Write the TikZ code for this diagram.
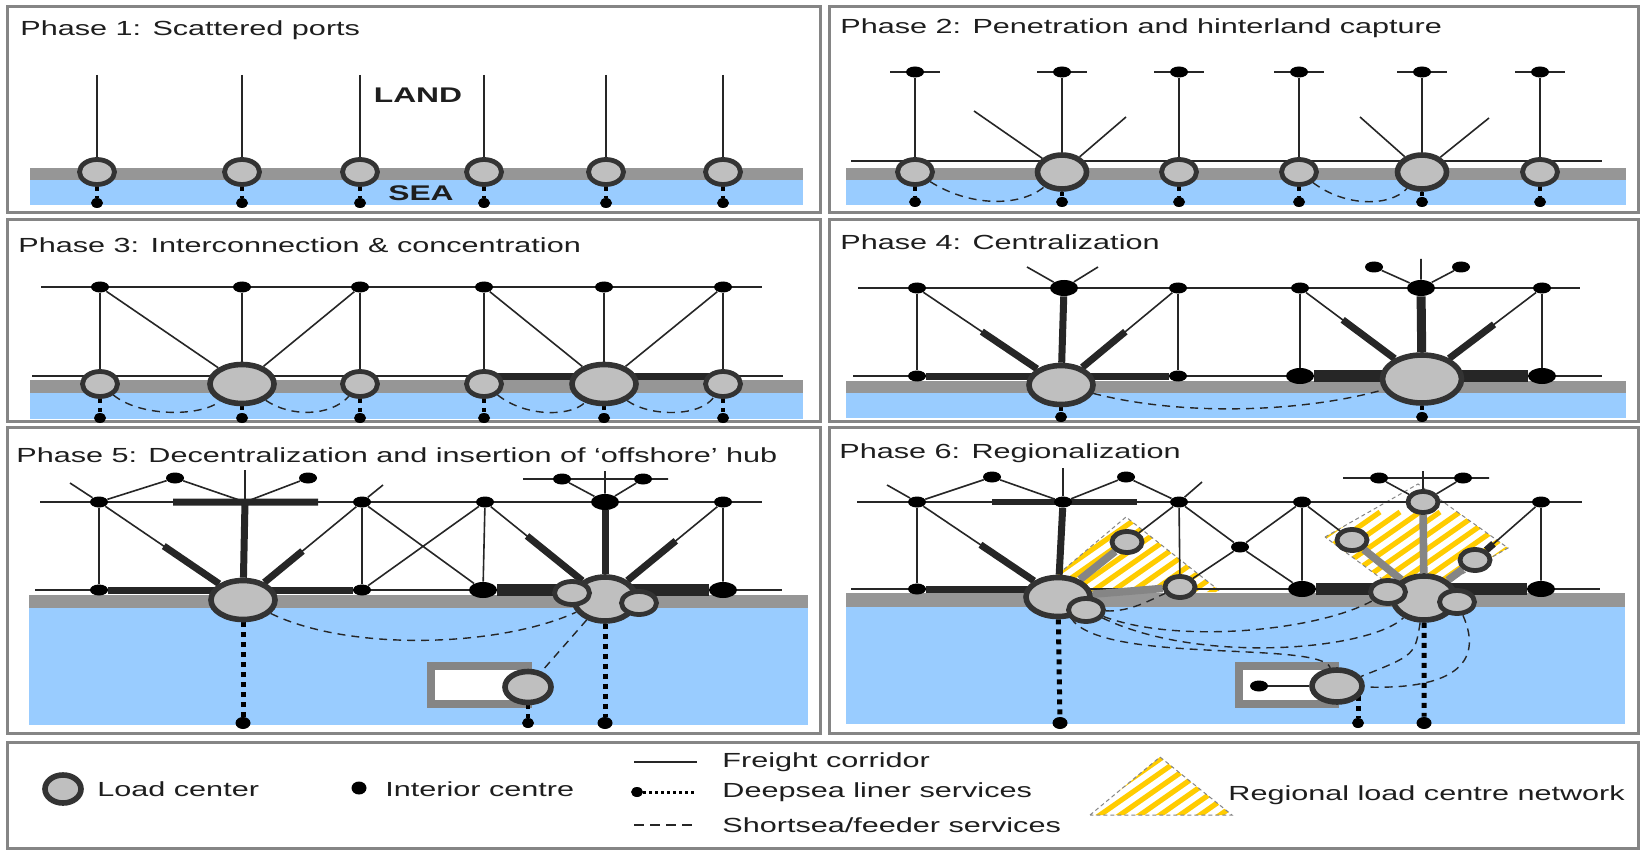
\documentclass[tikz,border=0pt]{standalone}
\usepackage{fontspec}
\setmainfont{Liberation Sans}[FakeStretch=1.5]
\usetikzlibrary{shapes.geometric,calc}
\definecolor{framegray}{HTML}{858585}
\definecolor{coastgray}{HTML}{969696}
\definecolor{seablue}{HTML}{99CCFF}
\definecolor{portfill}{HTML}{BFBFBF}
\definecolor{portedge}{HTML}{333333}
\definecolor{linedark}{HTML}{262626}
\definecolor{linkgray}{HTML}{858585}
\definecolor{boxgray}{HTML}{858585}
\definecolor{hatchyellow}{HTML}{FFCC00}
\definecolor{titlegray}{HTML}{1E1E1E}
\pgfdeclarelayer{back}
\pgfdeclarelayer{mid}
\pgfsetlayers{back,mid,main}

\begin{document}
\begin{tikzpicture}[x=0.5pt, y=-0.5pt, font=\fontsize{10.2}{12}\selectfont,
  panel/.style={draw=framegray, line width=1.5pt},
  title/.style={anchor=west, inner sep=0pt, text=titlegray},
  zonetext/.style={inner sep=0pt, text=titlegray, font=\fontsize{10.6}{12}\selectfont\bfseries},
  keytext/.style={anchor=west, inner sep=0pt, text=titlegray},
  port/.style={ellipse, draw=portedge, fill=portfill, line width=2.4pt, inner sep=0pt,
    minimum width=17.5pt, minimum height=12.5pt},
  smallport/.style={port, minimum width=15pt, minimum height=10.5pt},
  subport/.style={port, minimum width=17.5pt, minimum height=11.5pt},
  midhub/.style={port, line width=2.8pt, minimum width=24.5pt, minimum height=17pt},
  hub/.style={port, line width=2.8pt, minimum width=32pt, minimum height=19.5pt},
  bighub/.style={port, line width=2.8pt, minimum width=39.5pt, minimum height=24pt},
  clusterhub/.style={port, line width=2.8pt, minimum width=31pt, minimum height=22pt},
  offport/.style={port, line width=2.8pt, minimum width=23pt, minimum height=15.5pt},
  ctr/.style={ellipse, fill=black, inner sep=0pt, minimum width=9pt, minimum height=5.5pt},
  bigctr/.style={ctr, minimum width=14pt, minimum height=8pt},
  sink/.style={ctr, minimum width=6pt, minimum height=5pt},
  bigsink/.style={ctr, minimum width=7.5pt, minimum height=6pt},
  coast/.style={fill=coastgray},
  sea/.style={fill=seablue},
  corridor/.style={draw=linedark, line width=0.8pt},
  trunk/.style={draw=linedark, line width=3.5pt},
  bigtrunk/.style={draw=linedark, line width=6pt},
  graylink/.style={draw=linkgray, line width=3.8pt},
  deepsea/.style={draw=black, line width=2pt, dash pattern=on 2pt off 2.5pt},
  bigdeepsea/.style={draw=black, line width=2.5pt, dash pattern=on 2.5pt off 2.5pt},
  feeder/.style={draw=linedark, line width=0.7pt, dash pattern=on 4pt off 3pt},
  offbox/.style={draw=boxgray, fill=white, line width=4pt},
  stripe/.style={draw=hatchyellow, line width=2.6pt},
  regionedge/.style={draw=framegray, line width=0.5pt, dash pattern=on 2pt off 1.5pt}]
  \useasboundingbox (0,0) rectangle (1643,850);

  \begin{pgfonlayer}{back}
    \fill[white] (0,0) rectangle (1643,850);
    \draw[panel] (7,7) rectangle (820,213);
    \fill[coast] (30,168) rectangle (803,180);
    \fill[sea] (30,180) rectangle (803,205);
  \end{pgfonlayer}
  \node[title] (t1) at (20,30) {Phase 1: Scattered ports};
  \foreach \x [count=\i] in {97,242,360,484,606,723} {
    \coordinate (at\i) at (\x,75);
    \node[port] (a\i) at (\x,172) {};
    \node[sink] (as\i) at (\x,203) {};
    \begin{pgfonlayer}{mid}
      \draw[corridor] (at\i) -- (a\i);
      \draw[deepsea] (a\i) -- (as\i);
    \end{pgfonlayer}
  }
  \node[zonetext] (land) at (418,95) {LAND};
  \node[zonetext] (sea) at (421,193) {SEA};

  \begin{pgfonlayer}{back}
    \draw[panel] (829,7) rectangle (1638,213);
    \fill[coast] (846,168) rectangle (1626,180);
    \fill[sea] (846,180) rectangle (1626,205);
  \end{pgfonlayer}
  \node[title] (t2) at (840,28) {Phase 2: Penetration and hinterland capture};
  \foreach \x/\s [count=\i] in {915/port,1062/midhub,1179/port,1299/port,1422/midhub,1540/port} {
    \node[ctr] (bt\i) at (\x,72) {};
    \coordinate (bl\i) at (\x-25,72);
    \coordinate (br\i) at (\x+25,72);
    \node[\s] (b\i) at (\x,172) {};
    \node[sink] (bs\i) at (\x,202) {};
    \begin{pgfonlayer}{mid}
      \draw[corridor] (bl\i) -- (br\i) (bt\i) -- (b\i);
      \draw[deepsea] (b\i) -- (bs\i);
    \end{pgfonlayer}
  }
  \coordinate (bcl) at (851,161);
  \coordinate (bcr) at (1602,161);
  \coordinate (b2l) at (974,111);
  \coordinate (b2r) at (1126,117);
  \coordinate (b5l) at (1360,117);
  \coordinate (b5r) at (1489,118);
  \begin{pgfonlayer}{mid}
    \draw[corridor] (bcl) -- (bcr);
    \draw[corridor] (b2l) -- (b2) -- (b2r) (b5l) -- (b5) -- (b5r);
    \draw[feeder] (b1) .. controls (970,207) and (1020,207) .. (b2);
    \draw[feeder] (b4) .. controls (1345,207) and (1390,207) .. (b5);
  \end{pgfonlayer}

  \begin{pgfonlayer}{back}
    \draw[panel] (7,220) rectangle (820,421);
    \fill[coast] (30,380) rectangle (803,393);
    \fill[sea] (30,393) rectangle (803,419);
  \end{pgfonlayer}
  \node[title] (t3) at (18,245) {Phase 3: Interconnection \& concentration};
  \coordinate (ctopl) at (41,287);
  \coordinate (ctopr) at (762,287);
  \coordinate (cbotl) at (32,376);
  \coordinate (cbotr) at (783,376);
  \foreach \x/\s [count=\i] in {100/port,242/hub,360/port,484/port,604/hub,723/port} {
    \node[ctr] (ct\i) at (\x,287) {};
    \node[\s] (c\i) at (\x,384) {};
    \node[sink] (cs\i) at (\x,418) {};
    \begin{pgfonlayer}{mid}
      \draw[corridor] (ct\i) -- (c\i);
      \draw[deepsea] (c\i) -- (cs\i);
    \end{pgfonlayer}
  }
  \begin{pgfonlayer}{mid}
    \draw[corridor] (ctopl) -- (ctopr) (cbotl) -- (cbotr);
    \draw[corridor] (ct1) -- (c2) -- (ct3) (ct4) -- (c5) -- (ct6);
    \draw[trunk] (c4 |- cbotl) -- (c6 |- cbotl);
    \draw[feeder] (c1) .. controls (140,417) and (200,417) .. (c2);
    \draw[feeder] (c2) .. controls (290,417) and (330,417) .. (c3);
    \draw[feeder] (c4) .. controls (525,417) and (570,417) .. (c5);
    \draw[feeder] (c5) .. controls (650,417) and (700,417) .. (c6);
  \end{pgfonlayer}

  \begin{pgfonlayer}{back}
    \draw[panel] (829,220) rectangle (1638,421);
    \fill[coast] (846,381) rectangle (1626,393);
    \fill[sea] (846,393) rectangle (1626,418);
  \end{pgfonlayer}
  \node[title] (t4) at (840,242) {Phase 4: Centralization};
  \coordinate (dtopl) at (858,288);
  \coordinate (dtopr) at (1580,288);
  \coordinate (dbotl) at (853,376);
  \coordinate (dbotr) at (1602,376);
  \node[ctr] (dt1) at (917,288) {};
  \node[bigctr] (dt2) at (1064,288) {};
  \node[ctr] (dt3) at (1178,288) {};
  \node[ctr] (dt4) at (1300,288) {};
  \node[bigctr] (dt5) at (1421,288) {};
  \node[ctr] (dt6) at (1542,288) {};
  \node[ctr] (dt7) at (1374,267) {};
  \node[ctr] (dt8) at (1461,267) {};
  \coordinate (dt2l) at (1027,267);
  \coordinate (dt2r) at (1098,267);
  \coordinate (dt5u) at (1421,259);
  \node[ctr] (d1) at (917,376) {};
  \node[hub] (dh1) at (1061,385) {};
  \node[ctr] (d3) at (1178,376) {};
  \node[bigctr] (d4) at (1300,376) {};
  \node[bighub] (dh2) at (1422,379) {};
  \node[bigctr] (d6) at (1542,376) {};
  \node[sink] (ds1) at (1061,417) {};
  \node[sink] (ds2) at (1422,417) {};
  \begin{pgfonlayer}{mid}
    \draw[corridor] (dtopl) -- (dtopr) (dbotl) -- (dbotr);
    \draw[corridor] (dt2l) -- (dt2) -- (dt2r) (dt7) -- (dt5) -- (dt8) (dt5u) -- (dt5);
    \draw[corridor] (dt1) -- (d1) (dt3) -- (d3) (dt4) -- (d4) (dt6) -- (d6);
    \draw[corridor] (dt1) -- (dh1) (dt3) -- (dh1) (dt4) -- (dh2) (dt6) -- (dh2);
    \draw[trunk] ($(dt1)!0.45!(dh1)$) -- (dh1);
    \draw[trunk] ($(dt3)!0.45!(dh1)$) -- (dh1);
    \draw[trunk] ($(dt4)!0.35!(dh2)$) -- (dh2);
    \draw[trunk] ($(dt6)!0.4!(dh2)$) -- (dh2);
    \draw[trunk] (dt2) -- (dh1);
    \draw[trunk, line width=4.5pt] (dt5) -- (dh2);
    \draw[trunk] (d1) -- (d3);
    \draw[bigtrunk] (d4) -- (d6);
    \draw[feeder] (dh1) .. controls (1180,416) and (1300,413) .. (dh2);
    \draw[deepsea] (dh1) -- (ds1) (dh2) -- (ds2);
  \end{pgfonlayer}

  \begin{pgfonlayer}{back}
    \draw[panel] (7,427) rectangle (820,733);
    \fill[coast] (29,595) rectangle (808,608);
    \fill[sea] (29,608) rectangle (808,725);
    \draw[offbox] (431,666) rectangle (528,704);
  \end{pgfonlayer}
  \node[title] (t5) at (16,455) {Phase 5: Decentralization and insertion of ‘offshore’ hub};
  \coordinate (etopl) at (40,502);
  \coordinate (etopr) at (762,502);
  \coordinate (ebotl) at (35,590);
  \coordinate (ebotr) at (782,590);
  \node[ctr] (et1) at (99,502) {};
  \coordinate (et2) at (245,502);
  \node[ctr] (et3) at (362,502) {};
  \node[ctr] (et4) at (485,502) {};
  \node[bigctr] (et5) at (605,502) {};
  \node[ctr] (et6) at (723,502) {};
  \node[ctr] (eu1) at (175,478) {};
  \node[ctr] (eu2) at (308,478) {};
  \node[ctr] (eu3) at (562,479) {};
  \node[ctr] (eu4) at (643,479) {};
  \coordinate (ex1) at (70,483);
  \coordinate (ex2) at (245,470);
  \coordinate (ex3) at (383,485);
  \coordinate (ebl) at (173,502);
  \coordinate (ebr) at (318,502);
  \coordinate (efl) at (523,479);
  \coordinate (efr) at (668,479);
  \coordinate (efu) at (605,471);
  \node[ctr] (e1) at (99,590) {};
  \node[hub] (eh1) at (243,600) {};
  \node[ctr] (e3) at (362,590) {};
  \node[bigctr] (e4) at (483,590) {};
  \node[clusterhub] (eh2) at (605,599) {};
  \node[subport] (eh2a) at (572,593) {};
  \node[subport] (eh2b) at (639,603) {};
  \node[bigctr] (e6) at (723,590) {};
  \node[offport] (eo) at (528,687) {};
  \node[bigsink] (es1) at (243,723) {};
  \node[bigsink] (es2) at (605,723) {};
  \node[sink] (es3) at (528,723) {};
  \begin{pgfonlayer}{mid}
    \draw[corridor] (etopl) -- (etopr) (ebotl) -- (ebotr);
    \draw[corridor] (ex1) -- (et1) -- (eu1) -- (et2) -- (eu2) (ex2) -- (et2) (ex3) -- (et3);
    \draw[corridor] (efl) -- (efr) (eu3) -- (et5) -- (eu4) (efu) -- (et5);
    \draw[trunk] (ebl) -- (ebr) (et2) -- (eh1);
    \draw[corridor] (et1) -- (e1) (et3) -- (e3) (et4) -- (e4) (et6) -- (e6);
    \draw[corridor] (et1) -- (eh1) (et3) -- (eh1) (et3) -- (e4) (et4) -- (e3);
    \draw[corridor] (et4) -- (eh2) (et6) -- (eh2);
    \draw[trunk] ($(et1)!0.45!(eh1)$) -- (eh1);
    \draw[trunk] ($(et3)!0.5!(eh1)$) -- (eh1);
    \draw[trunk] ($(et4)!0.35!(eh2)$) -- (eh2);
    \draw[trunk] ($(et6)!0.4!(eh2)$) -- (eh2);
    \draw[trunk] (et5) -- (eh2);
    \draw[trunk] (e1) -- (e3);
    \draw[bigtrunk] (e4) -- (e6);
    \draw[feeder] (eh1) .. controls (350,652) and (500,647) .. (eh2);
    \draw[feeder] (eh2) -- (eo);
    \draw[bigdeepsea] (eh1) -- (es1) (eh2) -- (es2);
    \draw[deepsea] (eo) -- (es3);
  \end{pgfonlayer}

  \begin{pgfonlayer}{back}
    \draw[panel] (829,427) rectangle (1638,733);
    \fill[coast] (846,593) rectangle (1625,607);
    \fill[sea] (846,607) rectangle (1625,724);
    \draw[offbox] (1239,666) rectangle (1335,704);
    \begin{scope}
      \clip (1037,592) -- (1126,517) -- (1221,592) -- cycle;
      \foreach \k in {0,...,17} \draw[stripe] (900+20*\k,600) -- ++(140,-98);
    \end{scope}
    \draw[regionedge] (1037,592) -- (1126,517) -- (1221,592);
    \begin{scope}
      \clip (1325,537) -- (1418,484) -- (1508,548) -- (1413,602) -- cycle;
      \foreach \k in {0,...,19} \draw[stripe] (1140+20*\k,610) -- ++(140,-98);
    \end{scope}
    \draw[regionedge] (1325,537) -- (1418,484) -- (1508,548) -- (1413,602) -- cycle;
  \end{pgfonlayer}
  \node[title] (t6) at (839,453) {Phase 6: Regionalization};
  \coordinate (ftopl) at (857,502);
  \coordinate (ftopr) at (1582,502);
  \coordinate (fbotl) at (851,589);
  \coordinate (fbotr) at (1600,589);
  \node[ctr] (ft1) at (917,502) {};
  \node[ctr] (ft2) at (1063,502) {};
  \node[ctr] (ft3) at (1179,502) {};
  \node[ctr] (ft4) at (1302,502) {};
  \node[ctr] (ft6) at (1541,502) {};
  \node[ctr] (fu1) at (992,477) {};
  \node[ctr] (fu2) at (1126,477) {};
  \node[ctr] (fu3) at (1379,478) {};
  \node[ctr] (fu4) at (1463,478) {};
  \coordinate (fx1) at (887,485);
  \coordinate (fx2) at (1063,468);
  \coordinate (fx3) at (1202,482);
  \coordinate (fbl) at (992,502);
  \coordinate (fbr) at (1137,502);
  \coordinate (ffl) at (1343,478);
  \coordinate (ffr) at (1489,478);
  \coordinate (ffu) at (1423,471);
  \node[ctr] (fm) at (1240,547) {};
  \node[smallport] (ft5) at (1423,502) {};
  \node[smallport] (fp1) at (1127,542) {};
  \node[smallport] (fp2) at (1352,540) {};
  \node[smallport] (fp3) at (1475,560) {};
  \node[ctr] (f1) at (917,589) {};
  \node[bigctr] (f4) at (1302,589) {};
  \node[bigctr] (f6) at (1541,589) {};
  \node[hub] (fh1) at (1058,597) {};
  \node[subport] (fh1a) at (1086,610) {};
  \node[smallport] (f3) at (1180,587) {};
  \node[clusterhub] (fh2) at (1424,598) {};
  \node[subport] (fh2a) at (1388,592) {};
  \node[subport] (fh2b) at (1457,602) {};
  \node[ctr] (fo0) at (1259,686) {};
  \node[offport, minimum width=25pt, minimum height=16pt] (fo) at (1337,686) {};
  \node[bigsink] (fs1) at (1060,723) {};
  \node[bigsink] (fs2) at (1424,723) {};
  \node[sink] (fs3) at (1358,723) {};
  \begin{pgfonlayer}{mid}
    \draw[corridor] (ftopl) -- (ftopr) (fbotl) -- (fbotr);
    \draw[corridor] (fx1) -- (ft1) -- (fu1) -- (ft2) -- (fu2) -- (ft3) -- (fx3) (fx2) -- (ft2);
    \draw[trunk, line width=3pt] (fbl) -- (fbr);
    \draw[corridor] (ffl) -- (ffr) (fu3) -- (ft5) -- (fu4) (ffu) -- (ft5);
    \draw[corridor] (ft1) -- (f1) (ft3) -- (f3) (ft4) -- (f4) (ft6) -- (f6);
    \draw[corridor] (ft3) -- (fm) -- (f4) (ft4) -- (fm) -- (f3);
    \draw[corridor] (ft3) -- (fp1) (ft4) -- (fp2) (ft6) -- (fp3);
    \draw[trunk] ($(ft6)!0.72!(fp3)$) -- (fp3);
    \draw[corridor] (ft1) -- (fh1);
    \draw[trunk] ($(ft1)!0.45!(fh1)$) -- (fh1);
    \draw[trunk] (ft2) -- (fh1);
    \draw[graylink] (fh1) -- (fp1) (fh1) -- (f3);
    \draw[graylink] (fh2) -- (ft5) (fh2) -- (fp2) (fh2) -- (fp3);
    \draw[trunk] (f1) -- (f1 -| fh1);
    \draw[bigtrunk] (f4) -- (f6);
    \draw[feeder] (fh1a) .. controls (1130,612) and (1150,600) .. (f3);
    \draw[feeder] (fh1a) .. controls (1180,645) and (1320,630) .. (fh2a);
    \draw[feeder] (fh1a) .. controls (1200,665) and (1370,650) .. (fh2);
    \draw[feeder] (fh1) .. controls (1100,665) and (1320,640) .. (fo);
    \draw[feeder] (fh2) .. controls (1415,655) .. (fo);
    \draw[feeder] (fh2b) .. controls (1485,665) and (1450,690) .. (fo);
    \draw[bigdeepsea] (fh1) -- (fs1) (fh2) -- (fs2);
    \draw[bigdeepsea] (fs3 |- fo) -- (fs3);
    \draw[corridor] (fo0) -- (fo);
  \end{pgfonlayer}

  \begin{pgfonlayer}{back}
    \draw[panel] (7,742) rectangle (1638,848);
    \begin{scope}
      \clip (1090,815) -- (1160,757) -- (1232,815) -- cycle;
      \foreach \k in {0,...,13} \draw[stripe] (990+20*\k,822) -- ++(140,-98);
    \end{scope}
    \draw[regionedge] (1090,815) -- (1160,757) -- (1232,815) -- cycle;
  \end{pgfonlayer}
  \node[port, line width=2.8pt, minimum width=18pt, minimum height=14pt] (kport) at (63,789) {};
  \node[keytext] (kporttxt) at (97,789) {Load center};
  \node[ctr, minimum width=7.5pt, minimum height=6.5pt] (kctr) at (359,788) {};
  \node[keytext] (kctrtxt) at (385,789) {Interior centre};
  \coordinate (kfa) at (634,762);
  \coordinate (kfb) at (697,762);
  \node[keytext] (kftxt) at (722,762) {Freight corridor};
  \node[sink] (kda) at (637,792) {};
  \coordinate (kdb) at (697,792);
  \node[keytext] (kdtxt) at (722,792) {Deepsea liner services};
  \coordinate (ksa) at (634,825);
  \coordinate (ksb) at (697,825);
  \node[keytext] (kstxt) at (722,825) {Shortsea/feeder services};
  \node[keytext] (krtxt) at (1228,795) {Regional load centre network};
  \begin{pgfonlayer}{mid}
    \draw[corridor] (kfa) -- (kfb);
    \draw[black, line width=1.5pt, dash pattern=on 1.5pt off 1.5pt] (kda) -- (kdb);
    \draw[feeder, dash pattern=on 5pt off 3pt] (ksa) -- (ksb);
  \end{pgfonlayer}
\end{tikzpicture}
\end{document}
